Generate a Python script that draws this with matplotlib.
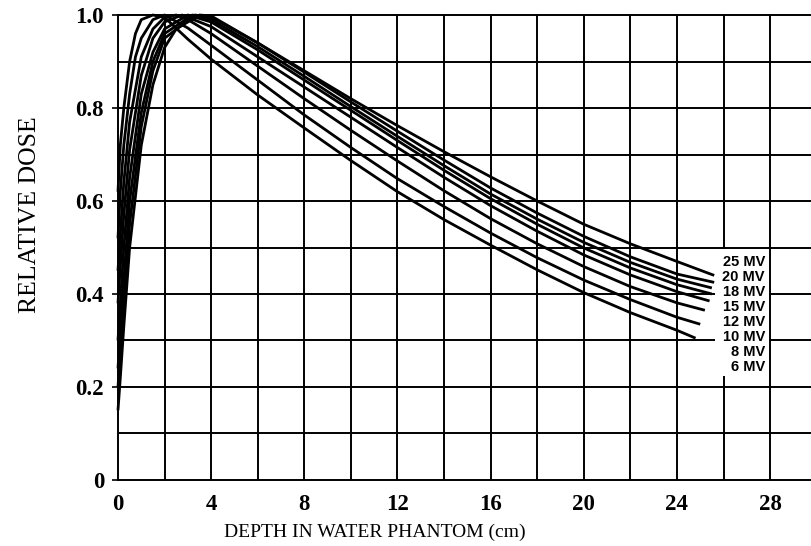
import matplotlib
matplotlib.use("Agg")
import matplotlib.pyplot as plt
from matplotlib.patches import Rectangle

# Central-axis depth dose curves for several photon beam energies
energies = ["6 MV", "8 MV", "10 MV", "12 MV", "15 MV", "18 MV", "20 MV", "25 MV"]

depth_6 = [0, 0.1, 0.25, 0.5, 0.75, 1.0, 1.5, 2, 3, 4, 6, 8, 10, 12, 14, 16, 18, 20, 22, 24, 24.8]
dose_6 = [0.62, 0.72, 0.80, 0.90, 0.96, 0.99, 1.0, 0.995, 0.948, 0.905, 0.828, 0.757, 0.687,
          0.620, 0.560, 0.505, 0.452, 0.403, 0.360, 0.322, 0.305]

depth_8 = [0, 0.1, 0.25, 0.5, 0.75, 1.0, 1.5, 2, 3, 4, 6, 8, 10, 12, 14, 16, 18, 20, 22, 24, 25.0]
dose_8 = [0.52, 0.62, 0.72, 0.83, 0.91, 0.95, 0.99, 1.0, 0.972, 0.935, 0.86, 0.785, 0.715,
          0.648, 0.588, 0.531, 0.478, 0.430, 0.388, 0.350, 0.335]

depth_10 = [0, 0.1, 0.25, 0.5, 1.0, 1.5, 2, 2.5, 3, 4, 6, 8, 10, 12, 14, 16, 18, 20, 22, 24, 25.2]
dose_10 = [0.45, 0.53, 0.64, 0.77, 0.91, 0.97, 0.995, 1.0, 0.99, 0.96, 0.89, 0.82, 0.752,
           0.686, 0.622, 0.562, 0.508, 0.459, 0.416, 0.381, 0.365]

depth_12 = [0, 0.1, 0.25, 0.5, 1.0, 1.5, 2, 2.75, 4, 6, 8, 10, 12, 14, 16, 18, 20, 22, 24, 25.4]
dose_12 = [0.38, 0.46, 0.57, 0.71, 0.87, 0.95, 0.985, 1.0, 0.975, 0.91, 0.845, 0.78, 0.715,
           0.651, 0.590, 0.535, 0.484, 0.441, 0.405, 0.385]

depth_15 = [0, 0.1, 0.25, 0.5, 1.0, 1.5, 2, 3, 4, 6, 8, 10, 12, 14, 16, 18, 20, 22, 24, 25.5]
dose_15 = [0.30, 0.38, 0.50, 0.65, 0.83, 0.92, 0.97, 1.0, 0.985, 0.925, 0.86, 0.795, 0.73,
           0.666, 0.605, 0.550, 0.499, 0.456, 0.420, 0.400]

depth_18 = [0, 0.1, 0.25, 0.5, 1.0, 1.5, 2, 3.2, 4, 6, 8, 10, 12, 14, 16, 18, 20, 22, 24, 25.5]
dose_18 = [0.24, 0.32, 0.43, 0.60, 0.79, 0.90, 0.96, 1.0, 0.99, 0.932, 0.868, 0.803, 0.739,
           0.676, 0.615, 0.561, 0.511, 0.468, 0.432, 0.413]

depth_20 = [0, 0.1, 0.25, 0.5, 1.0, 1.5, 2, 3.3, 4, 6, 8, 10, 12, 14, 16, 18, 20, 22, 24, 25.6]
dose_20 = [0.20, 0.27, 0.38, 0.55, 0.76, 0.88, 0.95, 1.0, 0.995, 0.94, 0.877, 0.813, 0.75,
           0.688, 0.628, 0.574, 0.524, 0.480, 0.443, 0.425]

depth_25 = [0, 0.1, 0.25, 0.5, 1.0, 1.5, 2, 2.5, 3.5, 4, 6, 8, 10, 12, 14, 16, 18, 20, 22, 24, 25.6]
dose_25 = [0.15, 0.22, 0.33, 0.50, 0.72, 0.85, 0.93, 0.97, 1.0, 0.998, 0.94, 0.88, 0.82,
           0.762, 0.706, 0.652, 0.600, 0.550, 0.508, 0.470, 0.440]

x_ticks = [0, 4, 8, 12, 16, 20, 24, 28]
y_ticks = [0, 0.2, 0.4, 0.6, 0.8, 1.0]
y_tick_labels = ["0", "0.2", "0.4", "0.6", "0.8", "1.0"]

curves = [(depth_6, dose_6), (depth_8, dose_8), (depth_10, dose_10), (depth_12, dose_12),
          (depth_15, dose_15), (depth_18, dose_18), (depth_20, dose_20), (depth_25, dose_25)]

serif = ["Liberation Serif", "DejaVu Serif"]

fig = plt.figure(figsize=(8.12, 5.46), dpi=100)
ax = fig.add_axes([0.1453, 0.1209, 0.8547, 0.8516])

ax.set_xlim(0, 29.8)
ax.set_ylim(0, 1.0)

# fine grid every 2 cm and every 0.1
for gx in range(2, 30, 2):
    ax.axvline(gx, color="black", lw=1.4, zorder=1)
for i in range(1, 10):
    ax.axhline(i / 10, color="black", lw=1.4, zorder=1)

for d, v in curves:
    ax.plot(d, v, color="black", lw=2.0, zorder=3, clip_on=False,
            solid_capstyle="butt", solid_joinstyle="round")

# label block for the energies, masking the grid behind it
ax.add_patch(Rectangle((25.65, 0.224), 2.3, 0.273, facecolor="white",
                       edgecolor="none", zorder=2))
label_y = [0.243, 0.275, 0.308, 0.340, 0.372, 0.404, 0.437, 0.469]
for name, ly in zip(energies, label_y):
    ax.text(27.78, ly, name, ha="right", va="center", fontsize=10.5,
            fontweight="bold", family=["Liberation Sans", "DejaVu Sans"],
            zorder=4)

ax.spines["right"].set_visible(False)
for side in ("left", "bottom", "top"):
    ax.spines[side].set_linewidth(1.4)

ax.set_xticks(x_ticks)
ax.set_xticklabels([str(t) for t in x_ticks])
ax.set_yticks(y_ticks)
ax.set_yticklabels(y_tick_labels)
ax.tick_params(axis="x", length=0, pad=10)
ax.tick_params(axis="y", length=4, width=1.2, pad=6)
for lab in ax.get_xticklabels() + ax.get_yticklabels():
    lab.set_fontfamily(serif)
    lab.set_fontweight("bold")
    lab.set_fontsize(16.5)

ax.set_xlabel("DEPTH IN WATER PHANTOM (cm)", fontsize=14, family=serif)
ax.xaxis.set_label_coords(0.37, -0.095)
ax.set_ylabel("RELATIVE DOSE", fontsize=18.5, family=serif)
ax.yaxis.set_label_coords(-0.111, 0.57)

fig.savefig("out.png", dpi=100)
